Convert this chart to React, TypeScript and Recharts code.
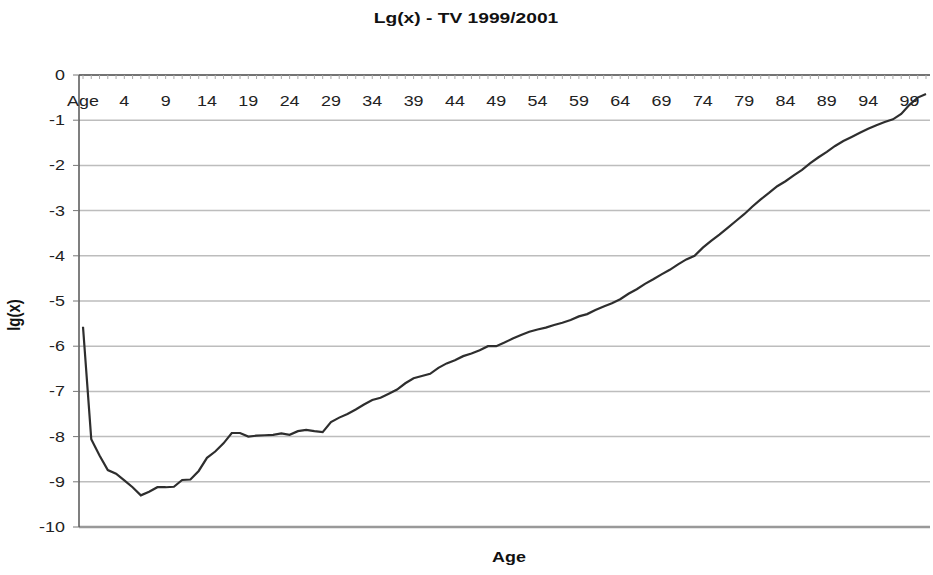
import React from 'react';
import { LineChart, Line, XAxis, YAxis, CartesianGrid, ReferenceLine } from 'recharts';

// first category is the header cell "Age", then the ages
const ages = [
  0, 1, 2, 3, 4, 5, 6, 7, 8, 9, 10, 11, 12, 13, 14, 15, 16, 17, 18, 19,
  20, 21, 22, 23, 24, 25, 26, 27, 28, 29, 30, 31, 32, 33, 34, 35, 36, 37, 38, 39,
  40, 41, 42, 43, 44, 45, 46, 47, 48, 49, 50, 51, 52, 53, 54, 55, 56, 57, 58, 59,
  60, 61, 62, 63, 64, 65, 66, 67, 68, 69, 70, 71, 72, 73, 74, 75, 76, 77, 78, 79,
  80, 81, 82, 83, 84, 85, 86, 87, 88, 89, 90, 91, 92, 93, 94, 95, 96, 97, 98, 99,
  100, 101,
];
const categories = ['Age', ...ages.map(String)];

const lgValues = [
  -5.57, -8.06, -8.42, -8.74, -8.82, -8.97, -9.12, -9.3, -9.22, -9.12,
  -9.12, -9.11, -8.96, -8.95, -8.76, -8.47, -8.33, -8.15, -7.92, -7.92,
  -8.0, -7.98, -7.97, -7.96, -7.93, -7.96, -7.88, -7.85, -7.88, -7.9,
  -7.68, -7.58, -7.5, -7.4, -7.29, -7.19, -7.14, -7.05, -6.96, -6.82,
  -6.71, -6.66, -6.61, -6.48, -6.38, -6.31, -6.22, -6.16, -6.09, -6.0,
  -6.0, -5.92, -5.83, -5.75, -5.68, -5.63, -5.59, -5.53, -5.48, -5.42,
  -5.34, -5.29, -5.2, -5.12, -5.05, -4.96, -4.84, -4.74, -4.62, -4.52,
  -4.41, -4.31, -4.19, -4.08, -4.0, -3.82, -3.67, -3.53, -3.38, -3.23,
  -3.08, -2.91, -2.75, -2.61, -2.46, -2.35, -2.22, -2.1, -1.95, -1.82,
  -1.7, -1.57, -1.46, -1.37, -1.28, -1.19, -1.11, -1.04, -0.98, -0.86,
  -0.66, -0.5, -0.42,
];

const yTicks = [0, -1, -2, -3, -4, -5, -6, -7, -8, -9, -10];

const data = categories.map((c, i) => ({ age: c, lg: lgValues[i] }));

const FONT = '"Liberation Sans", Arial, sans-serif';
const STRETCH = 1.28; // the scan is wider than it is tall

const AgeTick = (props: any) => {
  const { x, y, payload, index } = props;
  if (index % 5 !== 0) return null;
  return (
    <text
      x={0}
      y={0}
      dy="0.71em"
      transform={`translate(${x},${y}) scale(${STRETCH},1)`}
      textAnchor="middle"
      fontFamily={FONT}
      fontSize={14}
      fill="#222"
    >
      {payload.value}
    </text>
  );
};

const LgTick = (props: any) => {
  const { x, y, payload } = props;
  return (
    <text
      x={0}
      y={0}
      dy="0.355em"
      transform={`translate(${x},${y}) scale(${STRETCH},1)`}
      textAnchor="end"
      fontFamily={FONT}
      fontSize={14}
      fill="#222"
    >
      {payload.value}
    </text>
  );
};

export default function App() {
  return (
    <div style={{ position: 'absolute', left: 0, top: 0, width: 933, height: 575, background: '#fff' }}>
      <LineChart
        width={933}
        height={575}
        data={data}
        margin={{ top: 75, right: 3, bottom: 48, left: 0 }}
      >
        <CartesianGrid vertical={false} stroke="#bdbdbd" strokeWidth={1.5} />
        <ReferenceLine y={-10} stroke="#999" strokeWidth={2.5} />
        <XAxis
          dataKey="age"
          orientation="top"
          mirror
          interval={0}
          padding={{ left: 4, right: 4 }}
          axisLine={{ stroke: '#555', strokeWidth: 1.5 }}
          tickLine={{ stroke: '#aaa' }}
          tickSize={4}
          tickMargin={17}
          tick={<AgeTick />}
        />
        <YAxis
          type="number"
          domain={[-10, 0]}
          ticks={yTicks}
          interval={0}
          width={79}
          axisLine={{ stroke: '#555', strokeWidth: 1.5 }}
          tickLine={{ stroke: '#777' }}
          tickSize={6}
          tickMargin={8}
          tick={<LgTick />}
        />
        <Line
          type="linear"
          dataKey="lg"
          stroke="#2e2e2e"
          strokeWidth={2.2}
          dot={false}
          isAnimationActive={false}
        />
      </LineChart>
      <svg
        width={933}
        height={575}
        style={{ position: 'absolute', left: 0, top: 0, pointerEvents: 'none' }}
        fontFamily={FONT}
        fontWeight="bold"
        fill="#111"
      >
        <text x={0} y={0} transform={`translate(466,22.5) scale(${STRETCH},1)`} textAnchor="middle" fontSize={15}>
          Lg(x) - TV 1999/2001
        </text>
        <text x={0} y={0} transform={`translate(509,562) scale(${STRETCH},1)`} textAnchor="middle" fontSize={14}>
          Age
        </text>
        <text x={0} y={0} transform={`translate(20,315) scale(${STRETCH},1) rotate(-90)`} textAnchor="middle" fontSize={15}>
          lg(x)
        </text>
      </svg>
    </div>
  );
}
